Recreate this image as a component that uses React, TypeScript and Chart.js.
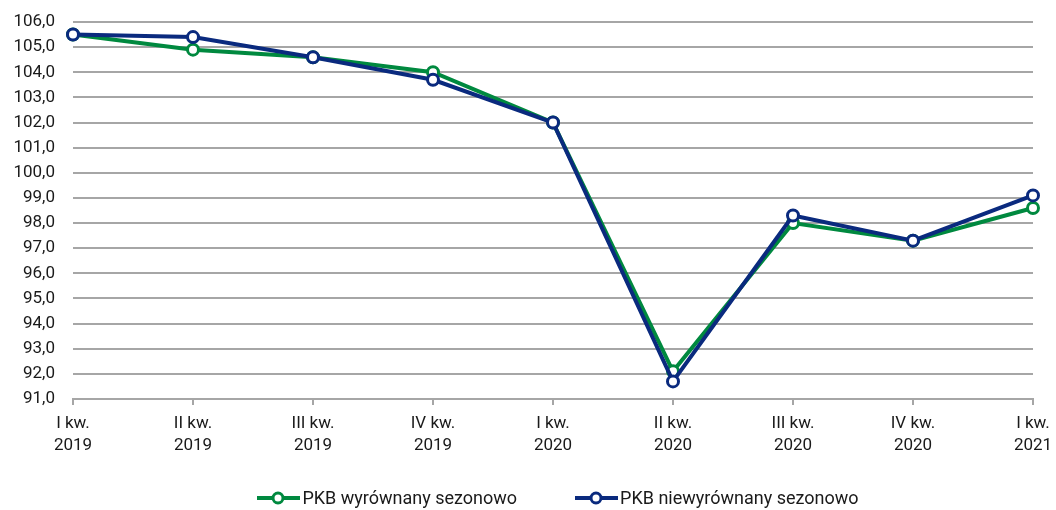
import React, { useEffect, useRef } from "react";
import { Chart, registerables } from "chart.js";

Chart.register(...registerables);

const categories: string[][] = [
  ["I kw.", "2019"],
  ["II kw.", "2019"],
  ["III kw.", "2019"],
  ["IV kw.", "2019"],
  ["I kw.", "2020"],
  ["II kw.", "2020"],
  ["III kw.", "2020"],
  ["IV kw.", "2020"],
  ["I kw.", "2021"],
];

const seasonallyAdjusted: number[] = [105.5, 104.9, 104.6, 104.0, 102.0, 92.1, 98.0, 97.3, 98.6];
const notSeasonallyAdjusted: number[] = [105.5, 105.4, 104.6, 103.7, 102.0, 91.7, 98.3, 97.3, 99.1];

const seriesNames: string[] = ["PKB wyrównany sezonowo", "PKB niewyrównany sezonowo"];

const GREEN = "#00893F";
const BLUE = "#0A2A7E";
const FONT = "Roboto, 'Noto Sans', sans-serif";

Chart.defaults.font.family = FONT;

function LegendIcon({ color }: { color: string }) {
  return (
    <svg width={43} height={16} style={{ display: "block" }}>
      <line x1={0} y1={8} x2={43} y2={8} stroke={color} strokeWidth={4} />
      <circle cx={21} cy={8} r={5} fill="#fff" stroke={color} strokeWidth={3} />
    </svg>
  );
}

export default function App() {
  const canvasRef = useRef<HTMLCanvasElement | null>(null);

  useEffect(() => {
    if (!canvasRef.current) return;
    const chart = new Chart(canvasRef.current, {
      type: "line",
      data: {
        labels: categories,
        datasets: [
          {
            label: seriesNames[0],
            data: seasonallyAdjusted,
            borderColor: GREEN,
            backgroundColor: "#ffffff",
            borderWidth: 4,
            pointRadius: 5.5,
            pointBorderWidth: 3,
            pointBackgroundColor: "#ffffff",
            pointBorderColor: GREEN,
            tension: 0,
            order: 2,
          },
          {
            label: seriesNames[1],
            data: notSeasonallyAdjusted,
            borderColor: BLUE,
            backgroundColor: "#ffffff",
            borderWidth: 4,
            pointRadius: 5.5,
            pointBorderWidth: 3,
            pointBackgroundColor: "#ffffff",
            pointBorderColor: BLUE,
            tension: 0,
            order: 1,
          },
        ],
      },
      options: {
        animation: false,
        responsive: true,
        maintainAspectRatio: false,
        layout: { padding: { left: 12, right: 23, top: 22, bottom: 51 } },
        plugins: {
          legend: { display: false },
          tooltip: { enabled: false },
        },
        scales: {
          x: {
            offset: false,
            grid: {
              display: true,
              drawOnChartArea: false,
              drawTicks: true,
              tickLength: 6,
              color: "#a6a6a6",
              lineWidth: 2,
            },
            border: { display: true, color: "#a6a6a6", width: 2 },
            ticks: {
              color: "#1a1a1a",
              font: { family: FONT, size: 17, lineHeight: 1.3 },
              maxRotation: 0,
              autoSkip: false,
              padding: 8,
            },
            afterFit: (scale: any) => {
              scale.paddingLeft = 0;
              scale.paddingRight = 0;
              scale.height = 60;
            },
          },
          y: {
            min: 91,
            max: 106,
            grid: {
              color: "#a6a6a6",
              lineWidth: 2,
              drawTicks: false,
            },
            border: { display: false },
            ticks: {
              stepSize: 1,
              color: "#1a1a1a",
              font: { family: FONT, size: 17 },
              padding: 18,
              callback: (v: any) => Number(v).toFixed(1).replace(".", ","),
            },
            afterFit: (scale: any) => {
              scale.paddingTop = 0;
              scale.paddingBottom = 0;
              scale.width = 61;
            },
          },
        },
      },
    });
    return () => chart.destroy();
  }, []);

  return (
    <div style={{ position: "fixed", left: 0, top: 0, width: 1056, height: 510, background: "#fff" }}>
      <canvas ref={canvasRef} />
      <div
        style={{
          position: "absolute",
          left: 0,
          top: 487,
          width: 1056,
          display: "flex",
          justifyContent: "center",
          paddingLeft: 60,
          boxSizing: "border-box",
          fontFamily: FONT,
          fontSize: 18,
          color: "#1a1a1a",
          alignItems: "center",
          gap: 58,
        }}
      >
        {seriesNames.map((name, i) => (
          <div key={name} style={{ display: "flex", alignItems: "center", gap: 2 }}>
            <LegendIcon color={i === 0 ? GREEN : BLUE} />
            <span>{name}</span>
          </div>
        ))}
      </div>
    </div>
  );
}
